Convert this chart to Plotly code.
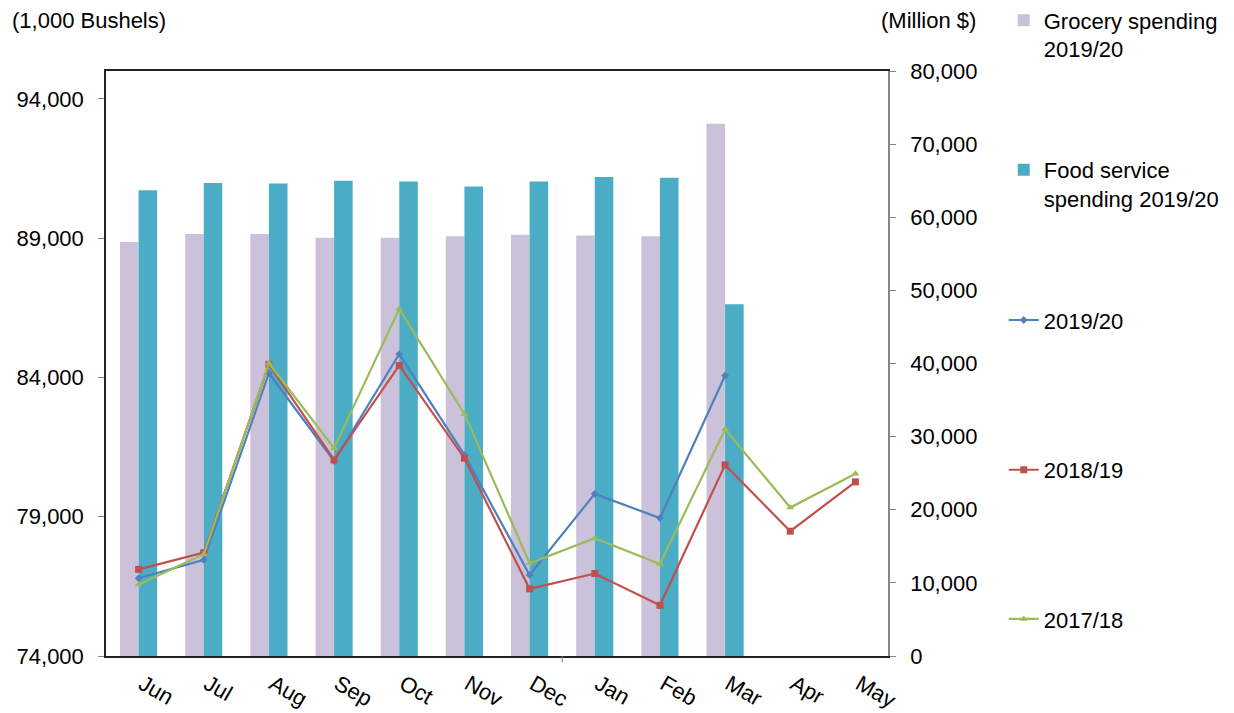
import plotly.graph_objects as go

# Monthly categories and series values
months = ["Jun", "Jul", "Aug", "Sep", "Oct", "Nov", "Dec", "Jan", "Feb", "Mar", "Apr", "May"]

# Spending (Million $), right axis
grocery_2019_20 = [56600, 57700, 57700, 57200, 57200, 57400, 57600, 57500, 57400, 72800, None, None]
food_service_2019_20 = [63700, 64700, 64600, 65000, 64900, 64200, 64900, 65500, 65400, 48100, None, None]

# Volumes (1,000 Bushels), left axis
bushels_2019_20 = [76790, 77450, 84150, 81000, 84840, 81220, 76910, 79820, 78950, 84070, None, None]
bushels_2018_19 = [77110, 77710, 84470, 81040, 84430, 81100, 76410, 76960, 75820, 80860, 78480, 80250]
bushels_2017_18 = [76570, 77650, 84510, 81460, 86460, 82690, 77330, 78230, 77300, 82140, 79330, 80540]

left_ticks = [74000, 79000, 84000, 89000, 94000]
right_ticks = [0, 10000, 20000, 30000, 40000, 50000, 60000, 70000, 80000]

FONT = "Liberation Sans, Arial, sans-serif"
FS = 22

fig = go.Figure()

# Bars on the primary axis (drawn at the right side) so the lines sit on top
fig.add_trace(go.Bar(
    x=months, y=grocery_2019_20, name="Grocery spending<br>2019/20",
    marker=dict(color="#CCC1DA", line=dict(width=0)), yaxis="y", legend="legend",
))
fig.add_trace(go.Bar(
    x=months, y=food_service_2019_20, name="Food service<br>spending 2019/20",
    marker=dict(color="#4BACC6", line=dict(width=0)), yaxis="y", legend="legend2",
))

fig.add_trace(go.Scatter(
    x=months, y=bushels_2019_20, name="2019/20", mode="lines+markers",
    line=dict(color="#4F81BD", width=2.2),
    marker=dict(symbol="diamond", size=6, color="#4F81BD"),
    yaxis="y2", legend="legend3",
))
fig.add_trace(go.Scatter(
    x=months, y=bushels_2018_19, name="2018/19", mode="lines+markers",
    line=dict(color="#C0504D", width=2.2),
    marker=dict(symbol="square", size=7, color="#C0504D"),
    yaxis="y2", legend="legend4",
))
fig.add_trace(go.Scatter(
    x=months, y=bushels_2017_18, name="2017/18", mode="lines+markers",
    line=dict(color="#9BBB59", width=2.2),
    marker=dict(symbol="triangle-up", size=7, color="#9BBB59"),
    yaxis="y2", legend="legend5",
))

legend_common = dict(
    x=1.148, xanchor="left", yanchor="middle",
    font=dict(family=FONT, size=FS, color="#000"),
    bgcolor="rgba(0,0,0,0)", valign="top", itemclick=False,
)

fig.update_layout(
    width=1234, height=713,
    margin=dict(l=106, r=346, t=71, b=57, autoexpand=False),
    paper_bgcolor="white", plot_bgcolor="white",
    font=dict(family=FONT, size=FS, color="#000"),
    showlegend=True,
    barmode="group", bargap=0.43, bargroupgap=0,
    legend=dict(y=1.0615, **legend_common),
    legend2=dict(y=0.806, **legend_common),
    legend3=dict(y=0.574, **legend_common),
    legend4=dict(y=0.318, **legend_common),
    legend5=dict(y=0.063, **legend_common),
    xaxis=dict(
        type="category", showgrid=False, ticks="", tickangle=30,
        showline=True, linecolor="#222", linewidth=1.5, mirror=True,
        tickfont=dict(family=FONT, size=FS, color="#000"),
        ticklabelstandoff=5, ticklabelshift=4,
        range=[-0.5, 11.5],
    ),
    yaxis=dict(
        side="right", range=[0, 80000], tickvals=right_ticks, tickformat=",",
        showgrid=False, zeroline=False, showline=True, linecolor="#868686", linewidth=1.5,
        ticks="outside", ticklen=6, tickcolor="#868686",
        tickfont=dict(family=FONT, size=FS, color="#000"), ticklabelstandoff=10,
    ),
    yaxis2=dict(
        side="left", overlaying="y", range=[74000, 95000], tickvals=left_ticks, tickformat=",",
        showgrid=False, zeroline=False, showline=True, linecolor="#222", linewidth=1.5,
        ticks="outside", ticklen=6, tickcolor="#868686",
        tickfont=dict(family=FONT, size=FS, color="#000"), ticklabelstandoff=10,
    ),
    annotations=[
        dict(text="(1,000 Bushels)", xref="paper", yref="paper", x=-0.123, y=1.087,
             xanchor="left", yanchor="middle", showarrow=False,
             font=dict(family=FONT, size=FS, color="#000")),
        dict(text="(Million $)", xref="paper", yref="paper", x=1.115, y=1.087,
             xanchor="right", yanchor="middle", showarrow=False,
             font=dict(family=FONT, size=FS, color="#000")),
    ],
    shapes=[
        dict(type="line", xref="x", yref="paper", x0=6.5, x1=6.5, y0=0, y1=-0.011,
             line=dict(color="#868686", width=1)),
    ],
)

fig.write_html("out.html")
